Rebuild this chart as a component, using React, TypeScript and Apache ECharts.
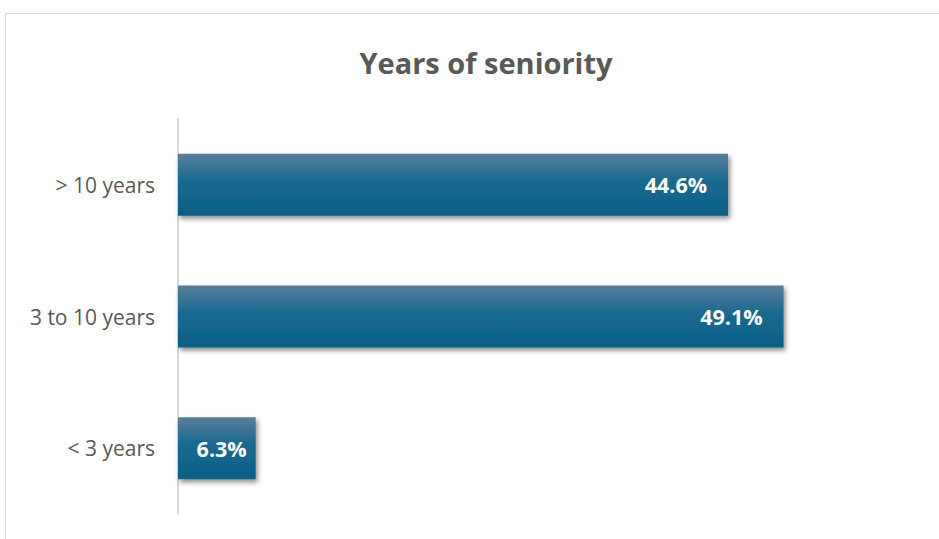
import React, { useEffect, useRef } from "react";
import * as echarts from "echarts";

const categories = ["< 3 years", "3 to 10 years", "> 10 years"];
const values = [6.3, 49.1, 44.6];
const titleText = "Years of seniority";

export default function App() {
  const ref = useRef<HTMLDivElement>(null);
  useEffect(() => {
    const chart = echarts.init(ref.current!, null, { renderer: "svg" });
    chart.setOption({
      animation: false,
      backgroundColor: "#ffffff",
      title: {
        text: titleText,
        left: 481,
        textAlign: "center",
        top: 43,
        textStyle: { fontFamily: "Open Sans", fontWeight: "bold", fontSize: 29, color: "#595959" },
      },
      graphic: [
        {
          type: "rect",
          shape: { x: 5.5, y: 13.5, width: 960, height: 560 },
          style: { fill: "none", stroke: "#d9d9d9", lineWidth: 1 },
          silent: true,
        },
      ],
      grid: { left: 178, right: 21, top: 119, bottom: 25 },
      xAxis: {
        type: "value",
        min: 0,
        max: 60,
        show: false,
      },
      yAxis: {
        type: "category",
        data: categories,
        axisLine: { show: true, lineStyle: { color: "#d9d9d9", width: 2 } },
        axisTick: { show: false },
        axisLabel: {
          fontFamily: "Open Sans",
          fontSize: 21,
          color: "#595959",
          margin: 23,
        },
      },
      series: [
        {
          type: "bar",
          data: values.map((v) => (v < 10 ? { value: v, label: { distance: 9 } } : v)),
          barWidth: 62,
          itemStyle: {
            color: new echarts.graphic.LinearGradient(0, 0, 0, 1, [
              { offset: 0, color: "#5a7e9b" },
              { offset: 0.45, color: "#186990" },
              { offset: 1, color: "#0b5e86" },
            ]),
            shadowColor: "rgba(0,0,0,0.45)",
            shadowBlur: 5,
            shadowOffsetX: 2,
            shadowOffsetY: 3,
          },
          label: {
            show: true,
            position: "insideRight",
            distance: 21,
            formatter: (p: any) => p.value.toFixed(1) + "%",
            fontFamily: "Open Sans",
            fontWeight: "bold",
            fontSize: 21.5,
            color: "#ffffff",
          },
        },
      ],
    });
    return () => chart.dispose();
  }, []);
  return <div ref={ref} style={{ width: 939, height: 539, position: "absolute", left: 0, top: 0 }} />;
}
